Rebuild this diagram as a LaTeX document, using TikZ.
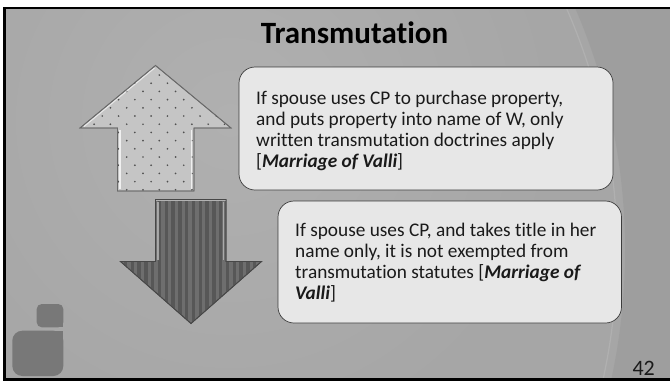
\documentclass[tikz,border=0pt]{standalone}
\usepackage{fontspec}
\setmainfont{Carlito}[Ligatures={NoCommon,NoContextual}]
\definecolor{bgGray}{HTML}{A6A6A6}
\definecolor{bgLight}{HTML}{B0B0B0}
\definecolor{bgDark}{HTML}{999999}
\definecolor{logoGray}{HTML}{787878}
\definecolor{boxFill}{HTML}{E7E7E7}
\definecolor{boxLine}{HTML}{3C3C3C}
\definecolor{upFill}{HTML}{C5C5C5}
\definecolor{upLine}{HTML}{6A6A6A}
\definecolor{dotGray}{HTML}{505050}
\definecolor{downFill}{HTML}{6E6E6E}
\definecolor{downStripe}{HTML}{575757}
\definecolor{downLine}{HTML}{474747}
\definecolor{inkGray}{HTML}{1A1A1A}
\tikzset{
  textbox/.style={fill=boxFill, draw=boxLine, line width=0.7pt, rounded corners=16pt},
  bodytext/.style={inner sep=0pt, align=left, text=inkGray,
    font=\fontsize{19.3}{21}\selectfont},
  uparrow/.style={fill=upFill, draw=upLine, line width=0.8pt},
  downarrow/.style={fill=downFill, draw=downLine, line width=0.8pt},
  shine/.style={white, opacity=0.75, line width=1.4pt},
  dimshine/.style={gray!55, opacity=0.8, line width=1.4pt}
}
\begin{document}
\begin{tikzpicture}[x=1pt,y=-1pt]
\useasboundingbox (0,0) rectangle (670,381);
\fill[white] (0,0) rectangle (670,381);

% slide background with soft light spot and a darker sweep on the right
\begin{scope}
  \clip (4.5,8) rectangle (672,379.5);
  \fill[bgGray] (0,0) rectangle (680,390);
  \shade[inner color=bgLight, outer color=bgGray] (230,120) circle (330);
  \fill[bgDark, even odd rule, opacity=0.55] (0,0) rectangle (690,400) (15,250) circle (610);
  \draw[white, opacity=0.12, line width=1.2pt] (15,250) circle (602);
\end{scope}
\draw[black, line width=2.7pt] (690,8) -- (4.6,8) -- (4.6,379.6) -- (690,379.6);

% corner logo blocks
\fill[logoGray, rounded corners=5pt] (36.7,304) rectangle (63.3,327.3);
\fill[logoGray] (53,317) rectangle (63.3,327.3);
\fill[logoGray, rounded corners=10pt] (12.3,330.7) rectangle (63.3,376);
\fill[logoGray] (48,330.7) rectangle (63.3,346);

% title
\node[anchor=base, inner sep=0pt, font=\fontsize{31}{36}\selectfont\bfseries] (title)
  at (354.5,43.3) {Transmutation};

% up arrow, dotted
\coordinate (upTip) at (155.5,65.5);
\path[uparrow] (upTip) -- (231,128) -- (194,128) -- (194,191) -- (117.5,191)
  -- (117.5,128) -- (80,128) -- cycle;
\begin{scope}
  \clip (upTip) -- (231,128) -- (194,128) -- (194,191) -- (117.5,191)
    -- (117.5,128) -- (80,128) -- cycle;
  \foreach \i in {0,...,15} {
    \pgfmathsetmacro{\yy}{75+8.2*\i}
    \pgfmathsetmacro{\xo}{mod(\i,2)*8.15}
    \foreach \k in {-5,...,5} {
      \fill[dotGray] (159.3+\xo+16.3*\k,\yy) circle (0.95);
    }
  }
\end{scope}
\draw[shine] (120,130) -- (120,189);
\draw[shine] (191.5,130) -- (191.5,189);
\draw[white, opacity=0.6, line width=1.1pt] (84,126.5) -- (154.5,68);
\path[uparrow, fill=none] (upTip) -- (231,128) -- (194,128) -- (194,191) -- (117.5,191)
  -- (117.5,128) -- (80,128) -- cycle;

% down arrow, striped
\coordinate (downTip) at (191,323.5);
\path[downarrow] (155.5,199.5) -- (226,199.5) -- (226,261.5) -- (261.5,261.5)
  -- (downTip) -- (120.5,261.5) -- (155.5,261.5) -- cycle;
\begin{scope}
  \clip (155.5,199.5) -- (226,199.5) -- (226,261.5) -- (261.5,261.5)
    -- (downTip) -- (120.5,261.5) -- (155.5,261.5) -- cycle;
  \foreach \k in {0,...,21} {
    \fill[downStripe] (117+6.8*\k,198) rectangle (120.4+6.8*\k,326);
  }
\end{scope}
\draw[dimshine] (158,202) -- (158,260);
\draw[dimshine] (223.5,202) -- (223.5,260);
\draw[gray!60, line width=1pt] (156,200.5) -- (225.5,200.5);
\path[downarrow, fill=none] (155.5,199.5) -- (226,199.5) -- (226,261.5) -- (261.5,261.5)
  -- (downTip) -- (120.5,261.5) -- (155.5,261.5) -- cycle;

% text boxes
\path[textbox] (239,67) rectangle (613,190);
\node[bodytext, anchor=north west] (textA) at (256,90.5)
  {If spouse uses CP to purchase property,\\
   and puts property into name of W, only\\
   written transmutation doctrines apply\\
   {[}\textbf{\textit{Marriage of Valli}}{]}};

\path[textbox] (278,201) rectangle (621.5,323);
\node[bodytext, anchor=north west] (textB) at (295,222.5)
  {If spouse uses CP, and takes title in her\\
   name only, it is not exempted from\\
   transmutation statutes [\textbf{\textit{Marriage of}}\\
   \textbf{\textit{Valli}}]};

% slide number
\node[anchor=base east, inner sep=0pt, text=inkGray, font=\fontsize{22}{26}\selectfont]
  (pagenum) at (655,375) {42};
\end{tikzpicture}
\end{document}
